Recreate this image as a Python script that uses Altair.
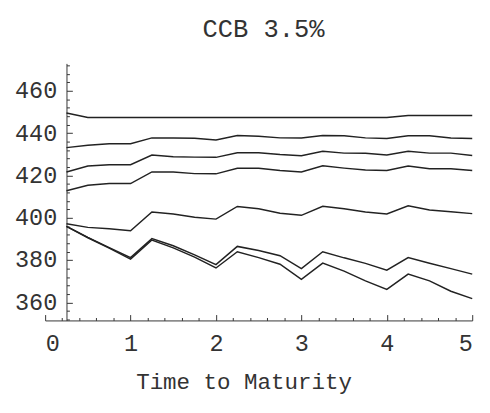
import altair as alt
import pandas as pd

# Time to maturity grid (years)
t = [0.25, 0.5, 0.75, 1.0, 1.25, 1.5, 1.75, 2.0, 2.25, 2.5,
     2.75, 3.0, 3.25, 3.5, 3.75, 4.0, 4.25, 4.5, 4.75, 5.0]

s1 = [449.6, 447.4, 447.4, 447.4, 447.4, 447.4, 447.4, 447.4, 447.4, 447.4,
      447.4, 447.4, 447.4, 447.4, 447.4, 447.4, 448.4, 448.4, 448.4, 448.4]
s2 = [433.2, 434.3, 435.0, 435.0, 437.8, 437.7, 437.6, 436.8, 438.9, 438.6,
      437.8, 437.7, 438.9, 438.8, 437.8, 437.5, 438.8, 438.8, 437.7, 437.5]
s3 = [421.7, 424.5, 425.1, 425.1, 429.7, 428.9, 428.7, 428.6, 430.8, 430.8,
      429.9, 429.4, 431.5, 430.6, 430.5, 429.7, 431.5, 430.6, 430.6, 429.5]
s4 = [412.8, 415.4, 416.2, 416.2, 421.7, 421.7, 420.9, 420.8, 423.4, 423.4,
      422.4, 421.7, 424.6, 423.5, 422.6, 422.4, 424.5, 423.2, 423.2, 422.4]
s5 = [397.2, 395.5, 394.8, 393.9, 402.8, 401.8, 400.3, 399.4, 405.4, 404.3,
      402.2, 401.2, 405.5, 404.3, 402.8, 401.8, 405.7, 403.7, 402.9, 402.0]
s6 = [396.0, 390.8, 385.9, 381.2, 390.2, 386.8, 382.5, 377.9, 386.5, 384.6,
      382.1, 376.0, 384.0, 381.1, 378.5, 375.3, 381.2, 378.5, 376.0, 373.4]
s7 = [396.0, 390.6, 385.7, 380.5, 389.5, 385.8, 381.4, 376.3, 384.0, 381.2,
      378.1, 370.9, 378.6, 374.8, 370.2, 366.2, 373.4, 370.2, 365.3, 361.8]

x_major = [0, 1, 2, 3, 4, 5]
x_minor = [0.2, 0.4, 0.6, 0.8, 1.2, 1.4, 1.6, 1.8, 2.2, 2.4, 2.6, 2.8,
           3.2, 3.4, 3.6, 3.8, 4.2, 4.4, 4.6, 4.8]
y_major = [360, 380, 400, 420, 440, 460]
y_minor = [352, 356, 364, 368, 372, 376, 384, 388, 392, 396, 404, 408, 412,
           416, 424, 428, 432, 436, 444, 448, 452, 456, 464, 468, 472]

series = {"s1": s1, "s2": s2, "s3": s3, "s4": s4, "s5": s5, "s6": s6, "s7": s7}
rows = []
for name, vals in series.items():
    for ti, v in zip(t, vals):
        rows.append({"t": ti, "v": v, "s": name})
df = pd.DataFrame(rows)

FONT = "Liberation Mono"
TXT = "#333333"
xscale = alt.Scale(domain=[0, 5], nice=False, zero=False)
yscale = alt.Scale(domain=[351.5, 473], nice=False, zero=False)
YOFF = -21.85
MAJ = 6
MIN = 3

base = alt.Chart(df)

# data lines + labelled axes (domain lines, labels, no ticks)
major = base.mark_line(color="#222222", strokeWidth=1.5).encode(
    x=alt.X("t:Q", scale=xscale, title="Time to Maturity",
            axis=alt.Axis(orient="bottom", values=x_major, format="d", grid=False,
                          ticks=False, domainColor=TXT,
                          labelFont=FONT, labelFontSize=24, labelColor=TXT,
                          labelPadding=12, titleFont=FONT, titleFontSize=23,
                          titleFontWeight="normal", titleColor=TXT, titlePadding=16,
                          titleX=203, titleAlign="center")),
    y=alt.Y("v:Q", scale=yscale, title=None,
            axis=alt.Axis(orient="left", values=y_major, grid=False, offset=YOFF,
                          ticks=False, domainColor=TXT,
                          labelFont=FONT, labelFontSize=24, labelColor=TXT,
                          labelPadding=10)),
    detail="s:N",
)

# inward major ticks
ticks_major = base.mark_line(strokeOpacity=0).encode(
    x=alt.X("t:Q", scale=xscale, title=None,
            axis=alt.Axis(orient="bottom", values=x_major, labels=False, domain=False,
                          grid=False, tickSize=MAJ, tickColor=TXT, offset=-MAJ)),
    y=alt.Y("v:Q", scale=yscale, title=None,
            axis=alt.Axis(orient="left", values=y_major, labels=False, domain=False,
                          grid=False, tickSize=MAJ, tickColor=TXT, offset=YOFF - MAJ)),
    detail="s:N",
)

# inward minor ticks
ticks_minor = base.mark_line(strokeOpacity=0).encode(
    x=alt.X("t:Q", scale=xscale, title=None,
            axis=alt.Axis(orient="bottom", values=x_minor, labels=False, domain=False,
                          grid=False, tickSize=MIN, tickColor=TXT, offset=-MIN)),
    y=alt.Y("v:Q", scale=yscale, title=None,
            axis=alt.Axis(orient="left", values=y_minor, labels=False, domain=False,
                          grid=False, tickSize=MIN, tickColor=TXT, offset=YOFF - MIN)),
    detail="s:N",
)

chart = alt.layer(major, ticks_major, ticks_minor).resolve_axis(
    x="independent", y="independent"
).properties(
    width=437, height=263,
    padding={"left": 38, "top": 52, "right": 10, "bottom": 90},
    autosize=alt.AutoSizeParams(type="none"),
    title=alt.TitleParams("CCB 3.5%", font=FONT, fontSize=26, fontWeight="normal",
                          color=TXT, anchor="middle", offset=22, dx=5),
).configure_view(stroke=None)

chart.save("out.html", embed_options={"renderer": "svg", "actions": False})
